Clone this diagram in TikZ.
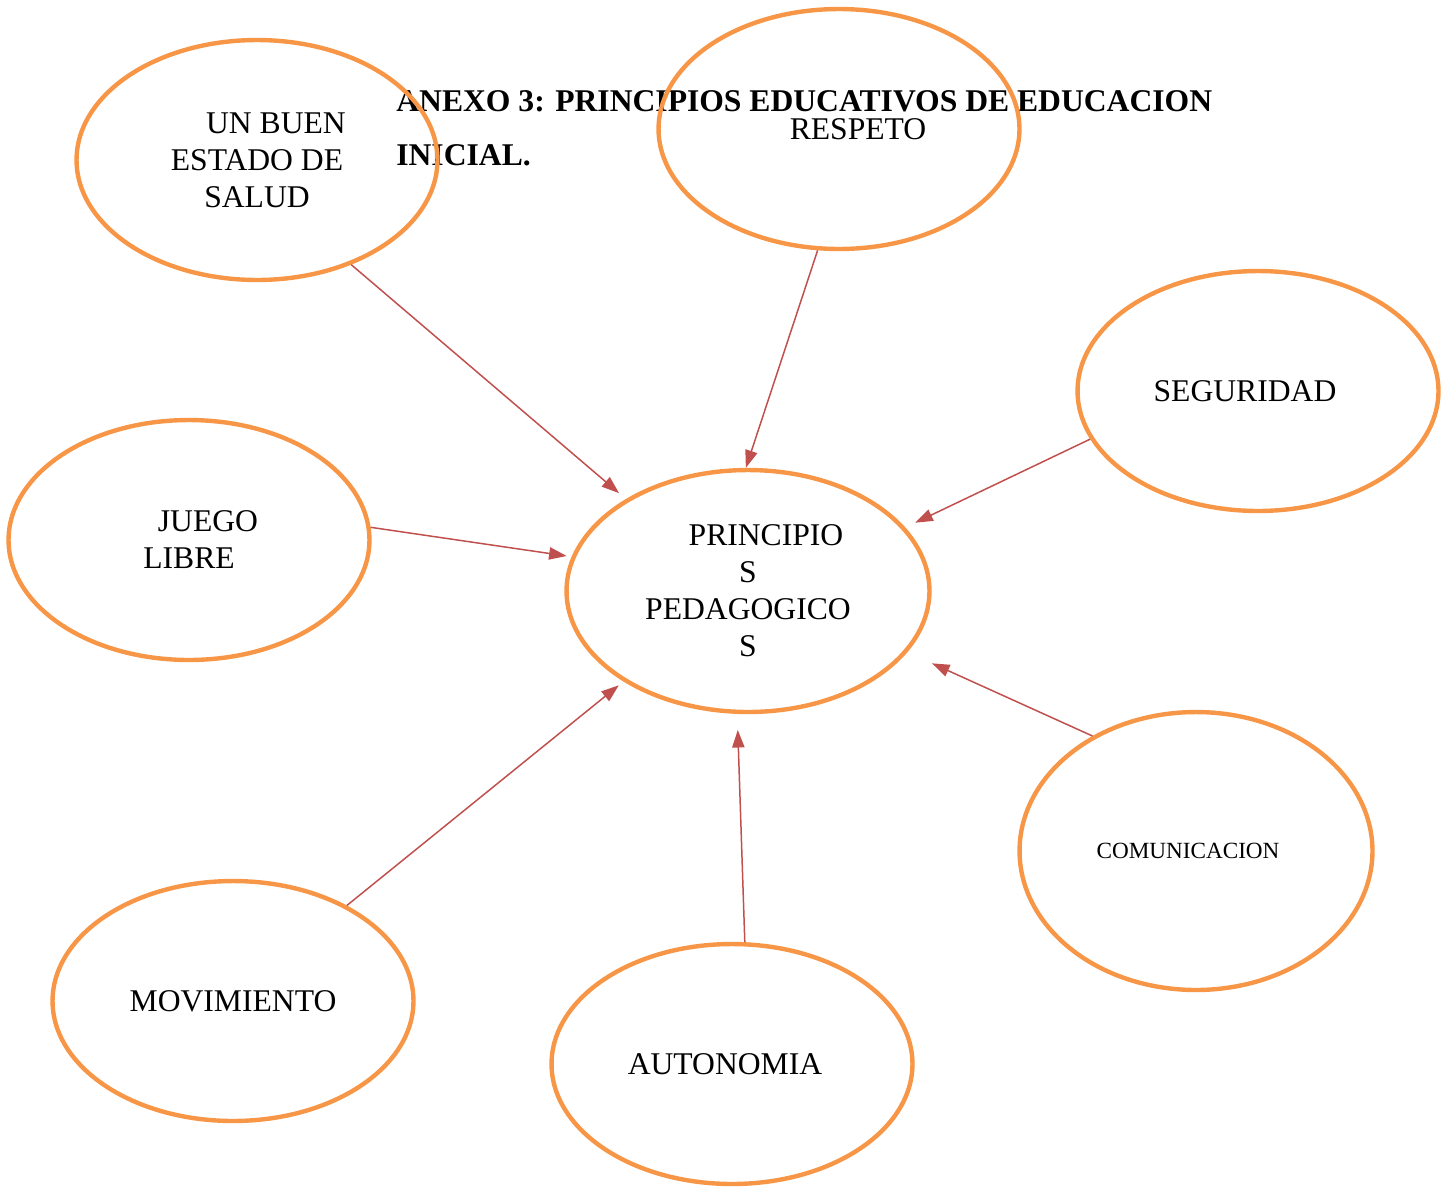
\documentclass[tikz,border=0pt]{standalone}
\usepackage{fontspec}
\setmainfont{Liberation Serif}
\usetikzlibrary{shapes.geometric,arrows.meta}
\definecolor{ovalorange}{HTML}{F79646}
\definecolor{arrowred}{HTML}{C0504D}
\begin{document}
\begin{tikzpicture}
[x=0.02cm,y=-0.02cm,
 nodedecorate/.style={shape=ellipse,draw=ovalorange,line width=2.5pt,inner sep=0pt,%
   minimum width=7.22cm,minimum height=4.8cm,align=center,font=\fontsize{18}{21}\selectfont},%
 linedecorate/.style={-{Triangle[length=10pt,width=7pt]},draw=arrowred,line width=0.85pt}]
\useasboundingbox (0,0) rectangle (1456,1187);
%% title
\node (titulo) at (396,90) [anchor=north west,inner sep=0pt,align=left,
  font=\bfseries\fontsize{18}{31}\selectfont]
  {ANEXO 3: PRINCIPIOS EDUCATIVOS DE EDUCACION\\INICIAL.};
%% nodes or vertices
\node (salud) at (257,160) [nodedecorate] {\hspace*{0.76cm}UN BUEN\\ESTADO DE\\SALUD};
\node (respeto) at (839,129) [nodedecorate] {\hspace*{0.76cm}RESPETO};
\node (seguridad) at (1258,391) [nodedecorate] {SEGURIDAD\hspace*{0.52cm}};
\node (juego) at (189,540) [nodedecorate] {\hspace*{0.76cm}JUEGO\\LIBRE};
\node (pp) at (748,591) [nodedecorate,minimum width=7.26cm,minimum height=4.84cm]
  {\hspace*{0.72cm}PRINCIPIO\\S\\PEDAGOGICO\\S};
\node (comunicacion) at (1196,851) [nodedecorate,minimum width=7.06cm,minimum height=5.56cm,
  font=\fontsize{13.2}{16}\selectfont] {COMUNICACION\hspace*{0.32cm}};
\node (movimiento) at (233,1001) [nodedecorate] {MOVIMIENTO};
\node (autonomia) at (732,1064) [nodedecorate] {AUTONOMIA\hspace*{0.28cm}};
%% edges or lines
\path
\foreach \startnode/\a/\b/\e in {salud/-48/143/0.18, respeto/260/91/0,
  seguridad/196/22/0.22, juego/4/169/0.1, comunicacion/132/-21/0.54,
  movimiento/40/216/0.12, autonomia/84/265/0.32} {
  (\startnode.\a) edge[linedecorate,shorten >=\e cm] (pp.\b)
};
\end{tikzpicture}
\end{document}
